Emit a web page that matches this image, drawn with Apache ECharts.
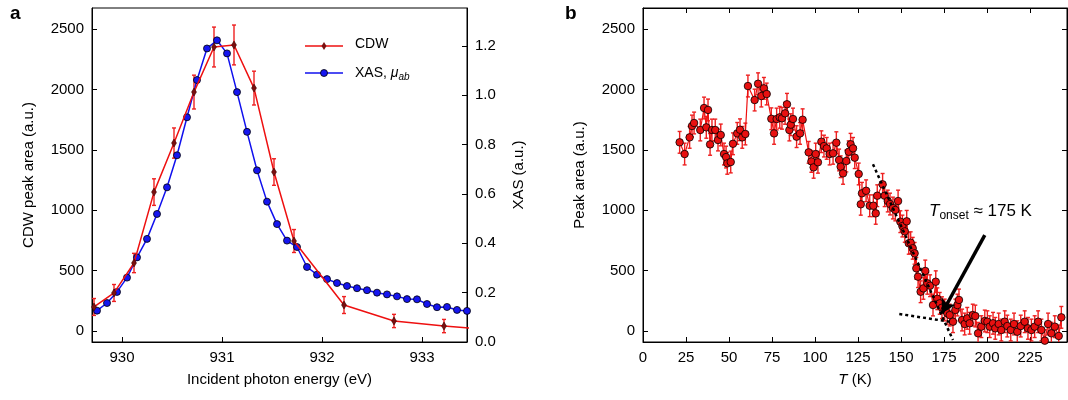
<!DOCTYPE html>
<html><head><meta charset="utf-8">
<script src="https://cdn.jsdelivr.net/npm/echarts@6/dist/echarts.min.js"></script>
<style>html,body{margin:0;background:#fff}#c{width:1068px;height:400px}</style>
</head><body><div id="c"></div>
<script>
// panel a: CDW peak area vs photon energy
var cdwE   = [929.72,929.92,930.12,930.32,930.52,930.72,930.92,931.12,931.32,931.52,931.72,932.22,932.72,933.22,933.72];
var cdwV   = [199,315,563,1150,1556,1978,2351,2368,2011,1316,745,215,83,41,8];
var cdwErr = [70,70,80,110,125,140,165,165,140,110,95,70,55,55,50];
// panel a: XAS, step 0.1 eV from 929.75
var xasV = [0.127,0.158,0.203,0.261,0.343,0.418,0.519,0.627,0.757,0.911,1.062,1.190,1.223,1.170,1.013,0.852,0.696,0.569,0.478,0.411,0.385,0.304,0.273,0.255,0.239,0.227,0.218,0.210,0.200,0.193,0.185,0.174,0.173,0.154,0.141,0.142,0.130,0.126];
var xasE = xasV.map(function(v,i){return +(929.75+0.1*i).toFixed(2);});
// panel b: peak area vs temperature
var tempT = [21.3,24.2,27.1,28.5,29.7,33.3,35.5,36.8,37.8,39,40.1,42,43.6,45.2,47.1,48.3,49,51,52.3,54.8,56.4,57.7,59.5,61,64.9,66.9,68.8,70.3,71.9,74.6,76.2,77.7,79.5,80.8,82.6,83.7,85.1,85.9,87.2,89.3,91.3,92.8,96.3,97.9,99.2,100.4,101.7,103.7,105.2,106.8,108.5,110.5,112.4,114,114.9,116.3,118.2,119.6,120.7,122.1,123.1,125.4,126.6,127.3,129.7,131.8,133.9,135.3,136.2,139.3,140.5,142.3,143.6,145.3,146.7,148.3,149.6,150.8,152.2,153.3,154.5,155.6,156.8,157.9,158.9,159.9,161.4,163,164.1,165.3,166.9,168.6,170.2,171.1,172.5,173.8,175.4,176.9,178.3,180.2,181.6,182.8,183.7,185.5,187,188.5,189.9,191.7,193.2,194.8,196.7,198.7,200.2,201.6,203.5,204.8,206.8,208.3,210.3,211.8,213.8,215.7,217.6,219.6,221.9,223.8,225.8,227.7,229.7,231.6,233.6,235.5,237.4,239.4,241.7,243.2];
var tempV = [1562,1465,1603,1697,1722,1664,1846,1686,1830,1545,1664,1664,1581,1623,1465,1440,1388,1399,1550,1636,1666,1603,1631,2028,1912,2047,1945,2009,1962,1757,1636,1755,1769,1761,1802,1877,1664,1708,1755,1609,1636,1749,1479,1404,1355,1465,1397,1567,1531,1512,1465,1471,1559,1416,1360,1305,1407,1484,1546,1512,1435,1300,1049,1140,1161,1037,1037,974,1120,1214,1120,1076,1051,1018,1002,1076,905,869,825,908,726,731,685,643,519,450,325,353,497,395,375,215,408,267,229,193,174,147,132,77,174,215,257,91,58,105,64,132,124,-19,36,83,77,36,64,22,58,8,77,41,8,58,-6,41,77,22,8,36,77,8,-80,58,-19,36,-41,113];
var tempErr = 90;
var yTicks = [0,500,1000,1500,2000,2500];

var font = 'Liberation Sans, Arial, sans-serif';
var chart = echarts.init(document.getElementById('c'));

function errSeries(xi, yi, pts, color){
  return {
    type:'custom', xAxisIndex:xi, yAxisIndex:yi, data:pts, z:1, clip:true,
    renderItem:function(params, api){
      var x=api.value(0), y=api.value(1), e=api.value(2);
      var lo=api.coord([x,y-e]), hi=api.coord([x,y+e]);
      var s={stroke:color,lineWidth:1.4};
      return {type:'group',children:[
        {type:'line',shape:{x1:lo[0],y1:lo[1],x2:hi[0],y2:hi[1]},style:s},
        {type:'line',shape:{x1:lo[0]-2,y1:lo[1],x2:lo[0]+2,y2:lo[1]},style:s},
        {type:'line',shape:{x1:hi[0]-2,y1:hi[1],x2:hi[0]+2,y2:hi[1]},style:s}
      ]};
    }
  };
}

function plain(v){return String(v);}

function baseAxis(o){
  var a = {
    axisLine:{show:true,onZero:false,lineStyle:{color:'#000',width:1}},
    axisTick:{show:true,inside:true,length:5,lineStyle:{color:'#000'}},
    axisLabel:{color:'#000',fontSize:15,fontFamily:font,formatter:plain},
    splitLine:{show:false}
  };
  for (var k in o) a[k]=o[k];
  return a;
}

var cdwPts = cdwE.map(function(e,i){return [e,cdwV[i],cdwErr[i]];});
var tPts = tempT.map(function(t,i){return [t,tempV[i],tempErr];});

chart.setOption({
  animation:false,
  grid:[
    {left:92,right:601,top:8,bottom:58,show:true,borderColor:'#000',borderWidth:1},
    {left:643,right:1,top:8,bottom:58,show:true,borderColor:'#000',borderWidth:1}
  ],
  xAxis:[
    baseAxis({gridIndex:0,type:'value',min:929.7,max:933.45,
      axisTick:{show:true,inside:true,length:5,lineStyle:{color:'#000'},customValues:[930,931,932,933]},
      axisLabel:{color:'#000',fontSize:15,fontFamily:font,customValues:[930,931,932,933],formatter:plain},
      name:'Incident photon energy (eV)',nameLocation:'middle',nameGap:30,
      nameTextStyle:{color:'#000',fontSize:15,fontFamily:font}}),
    baseAxis({gridIndex:1,type:'value',min:0,max:246.5,interval:25,
      name:'{i|T} (K)',nameLocation:'middle',nameGap:30,
      nameTextStyle:{color:'#000',fontSize:15,fontFamily:font,rich:{i:{fontStyle:'italic',fontSize:15,fontFamily:font}}},
      axisLabel:{color:'#000',fontSize:15,fontFamily:font,showMaxLabel:false,formatter:plain}}),
    baseAxis({gridIndex:1,type:'value',min:0,max:246.5,interval:25,position:'top',axisLabel:{show:false}})
  ],
  yAxis:[
    baseAxis({gridIndex:0,type:'value',min:-91,max:2674,
      axisTick:{show:true,inside:true,length:5,lineStyle:{color:'#000'},customValues:yTicks},
      axisLabel:{color:'#000',fontSize:15,fontFamily:font,customValues:yTicks,formatter:plain},
      name:'CDW peak area (a.u.)',nameLocation:'middle',nameGap:56,
      nameTextStyle:{color:'#000',fontSize:15,fontFamily:font}}),
    baseAxis({gridIndex:0,type:'value',position:'right',min:0,max:1.354,
      axisTick:{show:true,inside:true,length:5,lineStyle:{color:'#000'},customValues:[0,0.2,0.4,0.6,0.8,1.0,1.2]},
      axisLabel:{color:'#000',fontSize:15,fontFamily:font,customValues:[0,0.2,0.4,0.6,0.8,1.0,1.2],
        formatter:function(v){return v.toFixed(1);}},
      name:'XAS (a.u.)',nameLocation:'middle',nameGap:44,nameRotate:90,
      nameTextStyle:{color:'#000',fontSize:15,fontFamily:font}}),
    baseAxis({gridIndex:1,type:'value',min:-91,max:2674,
      axisTick:{show:true,inside:true,length:5,lineStyle:{color:'#000'},customValues:yTicks},
      axisLabel:{color:'#000',fontSize:15,fontFamily:font,customValues:yTicks,formatter:plain},
      name:'Peak area (a.u.)',nameLocation:'middle',nameGap:56,
      nameTextStyle:{color:'#000',fontSize:15,fontFamily:font}}),
    baseAxis({gridIndex:1,type:'value',position:'right',min:-91,max:2674,
      axisTick:{show:true,inside:true,length:5,lineStyle:{color:'#000'},customValues:yTicks},
      axisLabel:{show:false}})
  ],
  series:[
    {type:'line',xAxisIndex:0,yAxisIndex:1,data:xasE.map(function(e,i){return [e,xasV[i]];}),
      symbol:'circle',symbolSize:7,lineStyle:{color:'#1010ee',width:1.5},
      itemStyle:{color:'#1515f0',borderColor:'#000',borderWidth:0.8},z:3},
    errSeries(0,0,cdwPts,'#ee2020'),
    {type:'line',xAxisIndex:0,yAxisIndex:0,data:cdwPts.map(function(p){return [p[0],p[1]];}),
      symbol:'diamond',symbolSize:[5,8],lineStyle:{color:'#ee1010',width:1.5},
      itemStyle:{color:'#7a1010',borderColor:'#300',borderWidth:0.5},z:4},
    errSeries(1,2,tPts,'#ee2020'),
    {type:'line',xAxisIndex:1,yAxisIndex:2,data:tPts.map(function(p){return [p[0],p[1]];}),
      symbol:'circle',symbolSize:7.5,lineStyle:{color:'#ee1010',width:1.2},
      itemStyle:{color:'#e81010',borderColor:'#000',borderWidth:0.8},z:3,
      markLine:{silent:true,symbol:'none',label:{show:false},z:5,data:[
        [{coord:[133.7,1380]},{coord:[180.2,-75]}],
        [{coord:[149,141]},{coord:[178.3,77]}]
      ],lineStyle:{type:[3,3],color:'#000',width:2.5}}},
    {type:'line',xAxisIndex:1,yAxisIndex:2,data:[],
      markLine:{silent:true,symbol:['none','arrow'],symbolSize:[12,14],label:{show:false},z:6,data:[
        [{coord:[198.7,794]},{coord:[173.8,147]}]
      ],lineStyle:{type:'solid',color:'#000',width:3.5}}}
  ],
  graphic:[
    {type:'text',left:10,top:4,style:{text:'a',font:'bold 19px '+font,fill:'#000'}},
    {type:'text',left:565,top:4,style:{text:'b',font:'bold 19px '+font,fill:'#000'}},
    {type:'line',shape:{x1:305,y1:46,x2:343,y2:46},style:{stroke:'#ee1010',lineWidth:1.5}},
    {type:'polygon',shape:{points:[[324,42],[326.5,46],[324,50],[321.5,46]]},style:{fill:'#7a1010'}},
    {type:'text',x:355,y:37,style:{text:'CDW',font:'14px '+font,fill:'#000'}},
    {type:'line',shape:{x1:305,y1:73,x2:343,y2:73},style:{stroke:'#1010ee',lineWidth:1.5}},
    {type:'circle',shape:{cx:324,cy:73,r:3.5},style:{fill:'#1515f0',stroke:'#000',lineWidth:0.8}},
    {type:'text',x:355,y:64,style:{rich:{n:{fontSize:14,fontFamily:font,fill:'#000'},m:{fontSize:14,fontStyle:'italic',fontFamily:font,fill:'#000'},s:{fontSize:10,fontStyle:'italic',fontFamily:font,fill:'#000',padding:[8,0,0,0]}},text:'{n|XAS, }{m|μ}{s|ab}'}},
    {type:'text',x:929,y:200,style:{rich:{t:{fontSize:17,fontStyle:'italic',fontFamily:font,fill:'#000'},s:{fontSize:12,fontFamily:font,fill:'#000',padding:[10,0,0,0]},n:{fontSize:17,fontFamily:font,fill:'#000'}},text:'{t|T}{s|onset}{n| ≈ 175 K}'}}
  ]
});
</script></body></html>
